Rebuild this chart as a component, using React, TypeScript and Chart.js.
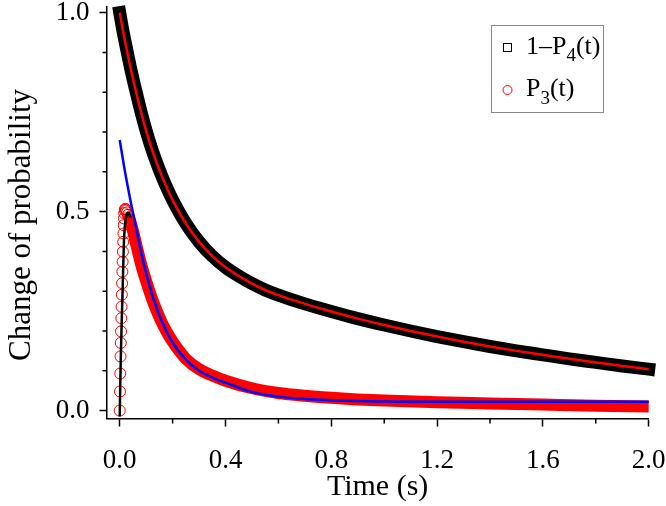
import React, { useEffect, useRef } from 'react';
import { Chart, registerables } from 'chart.js';

Chart.register(...registerables);

// 1 - P4(t): measured squares (also used by the red fit line drawn through them)
const squareTime = [0, 0.01, 0.02, 0.04, 0.06, 0.08, 0.1, 0.12, 0.14, 0.16, 0.18, 0.2, 0.25, 0.3, 0.35, 0.4, 0.45, 0.5, 0.55, 0.6, 0.7, 0.8, 0.9, 1.0, 1.1, 1.2, 1.3, 1.4, 1.5, 1.6, 1.7, 1.8, 1.9, 2.0];
const oneMinusP4 = [1.0, 0.962, 0.928, 0.864, 0.806, 0.752, 0.703, 0.66, 0.622, 0.588, 0.557, 0.529, 0.47, 0.424, 0.388, 0.36, 0.338, 0.319, 0.303, 0.29, 0.268, 0.249, 0.231, 0.215, 0.2, 0.186, 0.173, 0.161, 0.15, 0.14, 0.13, 0.121, 0.112, 0.104];
const fitP4Time = squareTime;
const fitP4 = oneMinusP4;

// P3(t): individual circles over the rise and the peak
const p3RiseTime = [0, 0.001, 0.002, 0.003, 0.004, 0.005, 0.006, 0.007, 0.008, 0.009, 0.01, 0.011, 0.012, 0.013, 0.014, 0.015, 0.016, 0.017, 0.019, 0.021, 0.023, 0.025, 0.028, 0.031];
const p3Rise = [0, 0.048, 0.093, 0.136, 0.17, 0.199, 0.232, 0.261, 0.291, 0.32, 0.349, 0.374, 0.399, 0.424, 0.445, 0.466, 0.483, 0.496, 0.504, 0.507, 0.506, 0.503, 0.498, 0.492];

// P3(t): dense decaying circles
const p3DecayTime = [0.031, 0.04, 0.05, 0.06, 0.08, 0.1, 0.12, 0.14, 0.16, 0.18, 0.2, 0.25, 0.3, 0.35, 0.4, 0.5, 0.6, 0.7, 0.8, 0.9, 1.0, 1.2, 1.4, 1.6, 1.8, 2.0];
const p3Decay = [0.492, 0.475, 0.452, 0.424, 0.37, 0.325, 0.285, 0.25, 0.22, 0.195, 0.173, 0.13, 0.104, 0.088, 0.075, 0.056, 0.044, 0.037, 0.032, 0.028, 0.025, 0.021, 0.018, 0.015, 0.012, 0.01];

// blue decay fit
const blueTime = [0, 0.02, 0.04, 0.06, 0.08, 0.1, 0.12, 0.14, 0.16, 0.18, 0.2, 0.25, 0.3, 0.35, 0.4, 0.5, 0.6, 0.7, 0.8, 0.9, 1.0, 1.2, 1.5, 2.0];
const blueFit = [0.68, 0.6, 0.53, 0.466, 0.4, 0.345, 0.297, 0.257, 0.223, 0.195, 0.171, 0.128, 0.1, 0.083, 0.07, 0.047, 0.035, 0.029, 0.026, 0.024, 0.023, 0.022, 0.022, 0.022];

// black rise fit
const riseTime = [0, 0.002, 0.004, 0.006, 0.008, 0.01, 0.012, 0.014, 0.016, 0.018, 0.02, 0.024, 0.028, 0.032, 0.036, 0.04];
const riseFit = [-0.015, 0.065, 0.13, 0.185, 0.235, 0.28, 0.33, 0.38, 0.425, 0.45, 0.466, 0.485, 0.495, 0.498, 0.494, 0.485];

const xTickValues = [0, 0.4, 0.8, 1.2, 1.6, 2.0];
const xMinorValues = [0.2, 0.6, 1.0, 1.4, 1.8];
const yTickValues = [0, 0.5, 1.0];
const yMinorValues = [0.1, 0.2, 0.3, 0.4, 0.6, 0.7, 0.8, 0.9];

const xTitle = 'Time (s)';
const yTitle = 'Change of probability';
const labelP4 = '1–P₄(t)';
const labelP3 = 'P₃(t)';

const FONT = "'Liberation Serif', 'Times New Roman', serif";

const pts = (xs: number[], ys: number[]) => xs.map((x, i) => ({ x, y: ys[i] }));

const SUBS = '₀₁₂₃₄₅₆₇₈₉';

function drawRich(ctx: CanvasRenderingContext2D, text: string, x: number, baseline: number, size: number) {
  let cx = x;
  for (const ch of text) {
    const si = SUBS.indexOf(ch);
    if (si >= 0) {
      ctx.font = `${Math.round(size * 0.72)}px ${FONT}`;
      const s = String(si);
      ctx.fillText(s, cx, baseline + size * 0.3);
      cx += ctx.measureText(s).width;
    } else {
      ctx.font = `${size}px ${FONT}`;
      ctx.fillText(ch, cx, baseline);
      cx += ctx.measureText(ch).width;
    }
  }
}

const extrasPlugin = {
  id: 'extras',
  afterDraw(chart: any) {
    const ctx = chart.ctx as CanvasRenderingContext2D;
    const xs = chart.scales.x;
    const ys = chart.scales.y;
    const area = chart.chartArea;
    ctx.save();
    // minor ticks
    ctx.strokeStyle = '#000';
    ctx.lineWidth = 1.5;
    ctx.beginPath();
    for (const v of xMinorValues) {
      const px = xs.getPixelForValue(v);
      ctx.moveTo(px, area.bottom);
      ctx.lineTo(px, area.bottom + 5);
    }
    for (const v of yMinorValues) {
      const py = ys.getPixelForValue(v);
      ctx.moveTo(area.left, py);
      ctx.lineTo(area.left - 4, py);
    }
    ctx.stroke();

    // y title
    ctx.save();
    ctx.translate(21.5, 225);
    ctx.rotate(-Math.PI / 2);
    ctx.fillStyle = '#000';
    ctx.font = `31px ${FONT}`;
    ctx.textAlign = 'center';
    ctx.textBaseline = 'middle';
    ctx.fillText(yTitle, 0, 0);
    ctx.restore();

    // legend
    const bx = 491.5, by = 25.5, bw = 112, bh = 87;
    ctx.strokeStyle = '#888';
    ctx.lineWidth = 1;
    ctx.strokeRect(bx, by, bw, bh);
    const items = chart.data.datasets
      .filter((d: any) => d.legendMarker)
      .sort((a: any, b: any) => a.legendOrder - b.legendOrder);
    items.forEach((d: any, i: number) => {
      const cy = 47.5 + i * 42.5;
      ctx.strokeStyle = d.legendColor;
      ctx.lineWidth = 1;
      if (d.legendMarker === 'rect') {
        ctx.strokeRect(503.5, cy - 4, 8, 8);
      } else {
        ctx.beginPath();
        ctx.arc(507.5, cy, 4.5, 0, Math.PI * 2);
        ctx.stroke();
      }
      ctx.fillStyle = '#000';
      ctx.textAlign = 'left';
      ctx.textBaseline = 'alphabetic';
      drawRich(ctx, d.label, 526, cy + 6, 26);
    });
    ctx.restore();
  },
};

export default function App() {
  const ref = useRef<HTMLCanvasElement>(null);
  useEffect(() => {
    if (!ref.current) return;
    const chart = new Chart(ref.current, {
      type: 'scatter',
      data: {
        datasets: [
          {
            label: 'rise fit',
            data: pts(riseTime, riseFit),
            showLine: true,
            borderColor: '#000',
            borderWidth: 2.5,
            pointRadius: 0,
            cubicInterpolationMode: 'monotone',
            order: 1,
            clip: false,
          },
          {
            label: 'decay fit',
            data: pts(blueTime, blueFit),
            showLine: true,
            borderColor: '#0000ff',
            borderWidth: 2.5,
            pointRadius: 0,
            cubicInterpolationMode: 'monotone',
            order: 0,
            clip: false,
          },
          {
            label: 'P3 rise',
            data: pts(p3RiseTime, p3Rise),
            showLine: false,
            pointStyle: 'circle',
            pointRadius: 5.5,
            pointBorderWidth: 1,
            pointBorderColor: '#ff0000',
            pointBackgroundColor: 'rgba(0,0,0,0)',
            order: 2,
            clip: false,
          },
          {
            label: labelP3,
            legendMarker: 'circle',
            legendColor: '#ff0000',
            legendOrder: 2,
            data: pts(p3DecayTime, p3Decay),
            showLine: true,
            borderColor: '#ff0000',
            borderWidth: 12,
            borderCapStyle: 'butt',
            borderJoinStyle: 'round',
            pointRadius: 0,
            cubicInterpolationMode: 'monotone',
            order: 3,
            clip: false,
          } as any,
          {
            label: 'P4 fit',
            data: pts(fitP4Time, fitP4),
            showLine: true,
            borderColor: '#ff0000',
            borderWidth: 2.5,
            pointRadius: 0,
            cubicInterpolationMode: 'monotone',
            order: 4,
            clip: false,
          },
          {
            label: labelP4,
            legendMarker: 'rect',
            legendColor: '#000',
            legendOrder: 1,
            data: pts(squareTime, oneMinusP4),
            showLine: true,
            borderColor: '#000',
            borderWidth: 13,
            borderCapStyle: 'square',
            borderJoinStyle: 'round',
            pointRadius: 0,
            cubicInterpolationMode: 'monotone',
            order: 5,
            clip: false,
          } as any,
        ],
      },
      options: {
        animation: false,
        responsive: false,
        events: [],
        layout: { padding: { left: 0, top: 6.7, right: 17.3, bottom: 0 } },
        plugins: { legend: { display: false }, tooltip: { enabled: false } },
        scales: {
          x: {
            type: 'linear',
            min: -0.05,
            max: 2.0,
            afterBuildTicks: (s: any) => {
              s.ticks = xTickValues.map((v) => ({ value: v }));
            },
            afterFit: (s: any) => {
              s.height = 87.5;
              s.paddingLeft = 0;
              s.paddingRight = 0;
            },
            ticks: {
              callback: (v: any) => Number(v).toFixed(1),
              font: { family: FONT, size: 27 },
              color: '#000',
              padding: 18,
              maxRotation: 0,
            },
            grid: { drawOnChartArea: false, tickLength: 8, tickColor: '#000', tickWidth: 1.5 },
            border: { color: '#000', width: 1.5 },
            title: {
              display: true,
              text: xTitle,
              font: { family: FONT, size: 30 },
              color: '#000',
              padding: { top: 0, bottom: 1 },
            },
          },
          y: {
            type: 'linear',
            min: -0.02,
            max: 1.015,
            afterBuildTicks: (s: any) => {
              s.ticks = yTickValues.map((v) => ({ value: v }));
            },
            afterFit: (s: any) => {
              s.width = 106.5;
              s.paddingTop = 0;
              s.paddingBottom = 0;
            },
            ticks: {
              callback: (v: any) => Number(v).toFixed(1),
              font: { family: FONT, size: 27 },
              color: '#000',
              padding: 10,
            },
            grid: { drawOnChartArea: false, tickLength: 7, tickColor: '#000', tickWidth: 1.5 },
            border: { color: '#000', width: 1.5 },
          },
        },
      },
      plugins: [extrasPlugin],
    } as any);
    return () => chart.destroy();
  }, []);
  return (
    <div style={{ position: 'absolute', left: 0, top: 0, width: 666, height: 506, background: '#fff' }}>
      <canvas ref={ref} width={666} height={506} style={{ display: 'block' }} />
    </div>
  );
}
